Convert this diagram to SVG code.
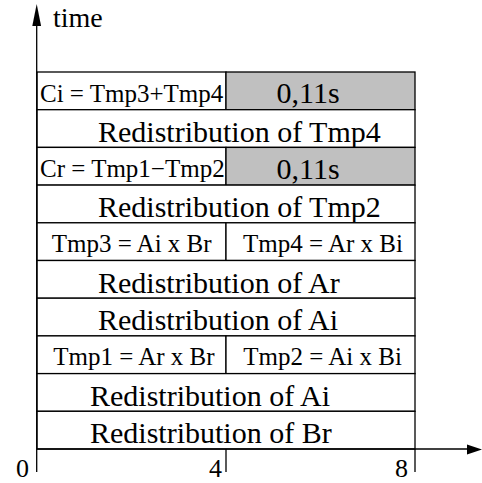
<svg xmlns="http://www.w3.org/2000/svg" width="482" height="483" viewBox="0 0 482 483">
<style>
.l{stroke:#000;stroke-width:1.3;fill:none}
.c{fill:#fff;stroke:#000;stroke-width:1.3}
.g{fill:#c0c0c0;stroke:#000;stroke-width:1.3}
text{fill:#000}
.big{font-size:30px}
.sm{font-size:25px}
.ax{font-size:26px}
</style>
<rect width="482" height="483" fill="#fff"/>
<g font-family="'Liberation Serif', 'Times New Roman', serif">
<g id="row1"><rect class="c" x="37" y="72" width="189" height="37.7"/><text class="sm" x="40" y="102">Ci = Tmp3+Tmp4</text></g>
<g id="row1b"><rect class="g" x="226" y="72" width="189" height="37.7"/><text class="big" x="276.5" y="102.5">0,11s</text></g>
<g id="row2"><rect class="c" x="37" y="109.7" width="378" height="37.7"/><text class="big" x="98" y="141.5">Redistribution of Tmp4</text></g>
<g id="row3"><rect class="c" x="37" y="147.4" width="189" height="37.7"/><text class="sm" x="40" y="177">Cr = Tmp1−Tmp2</text></g>
<g id="row3b"><rect class="g" x="226" y="147.4" width="189" height="37.7"/><text class="big" x="276.5" y="178.5">0,11s</text></g>
<g id="row4"><rect class="c" x="37" y="185.1" width="378" height="37.7"/><text class="big" x="98" y="217">Redistribution of Tmp2</text></g>
<g id="row5a"><rect class="c" x="37" y="222.8" width="189" height="37.7"/><text class="sm" x="51.7" y="251.7">Tmp3 = Ai x Br</text></g>
<g id="row5b"><rect class="c" x="226" y="222.8" width="189" height="37.7"/><text class="sm" x="243" y="251.7">Tmp4 = Ar x Bi</text></g>
<g id="row6"><rect class="c" x="37" y="260.5" width="378" height="37.7"/><text class="big" x="98" y="292.5">Redistribution of Ar</text></g>
<g id="row7"><rect class="c" x="37" y="298.2" width="378" height="37.7"/><text class="big" x="98" y="330.2">Redistribution of Ai</text></g>
<g id="row8a"><rect class="c" x="37" y="335.9" width="189" height="37.7"/><text class="sm" x="53.3" y="364.5">Tmp1 = Ar x Br</text></g>
<g id="row8b"><rect class="c" x="226" y="335.9" width="189" height="37.7"/><text class="sm" x="243.3" y="364.5">Tmp2 = Ai x Bi</text></g>
<g id="row9"><rect class="c" x="37" y="373.6" width="378" height="37.7"/><text class="big" x="90" y="405.5">Redistribution of Ai</text></g>
<g id="row10"><rect class="c" x="37" y="411.3" width="378" height="37.7"/><text class="big" x="90" y="443">Redistribution of Br</text></g>
<g id="axes">
<line class="l" x1="36.7" y1="472" x2="36.7" y2="20"/>
<polygon points="36.7,4 32.3,26 41.1,26" fill="#000"/>
<line class="l" x1="36.7" y1="449" x2="470" y2="449"/>
<polygon points="482,449.5 467,444.5 467,454.5" fill="#000"/>
<line class="l" x1="226" y1="449" x2="226" y2="472"/>
<line class="l" x1="415" y1="449" x2="415" y2="472"/>
</g>
<g id="labels">
<text class="ax" x="29" y="477" text-anchor="end">0</text>
<text class="ax" x="222" y="477" text-anchor="end">4</text>
<text class="ax" x="408" y="477" text-anchor="end">8</text>
<text x="53" y="27" font-size="28px">time</text>
</g>
</g>
</svg>
